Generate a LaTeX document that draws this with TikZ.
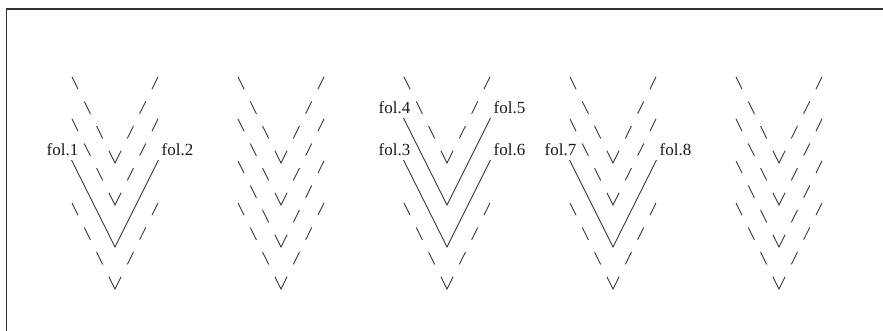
\documentclass[tikz,border=0pt]{standalone}
\usepackage{fontspec}
\setmainfont{Liberation Serif}
\begin{document}
\begin{tikzpicture}[x=1pt,y=-1pt,
  leaf/.style={line width=0.8pt, draw=black!85},
  dleaf/.style={leaf, dash pattern=on 0pt off 1.05pt on 13.75pt off 13.75pt on 13.75pt off 13.75pt on 13.75pt off 13.75pt on 27.5pt off 13.75pt on 13.75pt off 13.75pt on 13.75pt off 13.75pt on 13.75pt off 100pt},
  lbl/.style={inner sep=0pt, font=\fontsize{17}{20}\selectfont, text=black!90}]
\useasboundingbox (0,0) rectangle (883,330);
\begin{scope}
\clip (0,0) rectangle (883,330);
\draw[line width=1.6pt, black!80] (6.5,345) -- (6.5,8.8) -- (900,8.8);
\end{scope}
\foreach \cx/\sa/\sb/\sc/\sd [count=\g] in {115/dleaf/dleaf/leaf/dleaf, 281/dleaf/dleaf/dleaf/dleaf, 447/dleaf/leaf/leaf/dleaf, 613/dleaf/dleaf/leaf/dleaf, 779/dleaf/dleaf/dleaf/dleaf}{
  \foreach \ay/\st [count=\v] in {163/\sa, 205/\sb, 247/\sc, 289/\sd}{
    \coordinate (ap-\g-\v) at (\cx,\ay);
    \coordinate (tl-\g-\v) at (\cx-43.5,\ay-87);
    \coordinate (tr-\g-\v) at (\cx+43.5,\ay-87);
    \draw[\st] (tl-\g-\v) -- (ap-\g-\v) -- (tr-\g-\v);
  }
}
\node[lbl, anchor=base east] (f1) at ([shift={(7,-5)}]tl-1-3) {fol.1};
\node[lbl, anchor=base west] (f2) at ([shift={(3,-5)}]tr-1-3) {fol.2};
\node[lbl, anchor=base east] (f4) at ([shift={(7,-5)}]tl-3-2) {fol.4};
\node[lbl, anchor=base west] (f5) at ([shift={(3,-5)}]tr-3-2) {fol.5};
\node[lbl, anchor=base east] (f3) at ([shift={(7,-5)}]tl-3-3) {fol.3};
\node[lbl, anchor=base west] (f6) at ([shift={(3,-5)}]tr-3-3) {fol.6};
\node[lbl, anchor=base east] (f7) at ([shift={(7,-5)}]tl-4-3) {fol.7};
\node[lbl, anchor=base west] (f8) at ([shift={(3,-5)}]tr-4-3) {fol.8};
\end{tikzpicture}
\end{document}
